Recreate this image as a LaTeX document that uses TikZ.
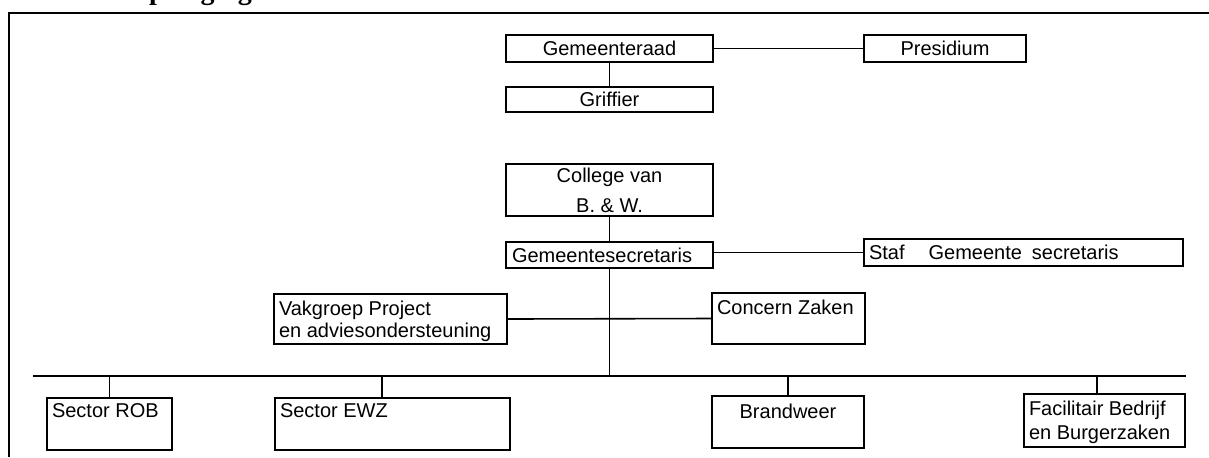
\documentclass[tikz,border=0pt]{standalone}
\usepackage{fontspec}
\setmainfont{Liberation Sans}
\newfontfamily\headfont{Liberation Serif}

% centred text in a box of given width and height
\newcommand{\ctext}[3]{\parbox[c][#2][c]{#1}{\centering #3\par}}
% text set from the top-left corner of a box: width, height, top gap, text
\newcommand{\ttext}[4]{\parbox[c][#2][t]{#1}{\vspace*{#3}\raggedright\leftskip=2.5pt #4\par}}
% text set from the top, centred
\newcommand{\tctext}[4]{\parbox[c][#2][t]{#1}{\vspace*{#3}\centering #4\par}}

\begin{document}
\begin{tikzpicture}[x=0.5pt,y=-0.5pt,
  orgbox/.style={draw, line width=1pt, inner sep=0pt, anchor=north west,
                 font=\fontsize{10}{12}\selectfont},
  link/.style={line width=0.8pt},
  frameline/.style={line width=1pt}]
\useasboundingbox (0,0) rectangle (1209,457);
\clip (0,0) rectangle (1209,457);

% page heading, cut off at the top edge
\node[font=\headfont\bfseries\fontsize{14}{14}\selectfont, anchor=base west, inner sep=0pt]
  (head) at (127,-1) {Opvolging};

% frame
\coordinate (fBL) at (9,457);
\coordinate (fTL) at (9,13);
\coordinate (fTR) at (1209,13);
\draw[frameline] (fBL) -- (fTL) -- (fTR);

% council
\node[orgbox] (raad) at (505,34) {\ctext{103.5pt}{13.5pt}{Gemeenteraad}};
\node[orgbox] (pres) at (863,34) {\ctext{81pt}{13.5pt}{Presidium}};
\node[orgbox] (griffier) at (505,86) {\ctext{103.5pt}{12.5pt}{Griffier}};

% executive
\node[orgbox] (college) at (505,163)
  {\ctext{103.5pt}{26pt}{\fontsize{10}{15}\selectfont College van\\B. \& W.}};
\node[orgbox] (gemsec) at (505,241) {\parbox[c][13pt][c]{103.5pt}{\hspace*{3pt}Gemeentesecretaris}};
\node[orgbox] (staf) at (863,238)
  {\parbox[c][13.5pt][c]{159.5pt}{\hspace*{2.5pt}Staf\hspace{12pt}Gemeente\hspace{5pt}secretaris}};

% staff units
\node[orgbox] (vak) at (273,293)
  {\ttext{116.5pt}{25pt}{3.5pt}{\fontsize{10}{11}\selectfont Vakgroep Project\\en adviesondersteuning}};
\node[orgbox] (concern) at (711,292) {\ttext{76.5pt}{25.5pt}{3.5pt}{Concern Zaken}};

% sectors
\node[orgbox] (rob) at (46,397) {\ttext{62.5pt}{26pt}{3pt}{Sector ROB}};
\node[orgbox] (ewz) at (274,397) {\ttext{117.5pt}{26pt}{3pt}{Sector EWZ}};
\node[orgbox] (brand) at (711,395) {\tctext{76pt}{26pt}{4pt}{Brandweer}};
\node[orgbox] (facil) at (1023,393)
  {\ttext{80.5pt}{26.5pt}{3.5pt}{\fontsize{10}{12}\selectfont Facilitair Bedrijf\\en Burgerzaken}};

% connectors
\draw[link] (raad.east) -- (pres.west);
\draw[link] (raad.south) -- (griffier.north);
\draw[link] (college.south) -- (gemsec.north);
\draw[link] (staf.west) -- (staf.west -| gemsec.east);
\draw[link] (vak.east) -- (concern.west);

% distribution bus
\coordinate (busL) at (33,376);
\coordinate (busR) at (1186,376);
\draw[link] (busL) -- (busR);
\draw[link] (gemsec.south) -- (gemsec.south |- busL);

\coordinate (dEWZ) at (382,376);
\coordinate (dFacil) at (1097,376);
\draw[link] (rob.north |- busL) -- (rob.north);
\draw[link] (dEWZ) -- (dEWZ |- ewz.north);
\draw[link] (brand.north |- busL) -- (brand.north);
\draw[link] (dFacil) -- (dFacil |- facil.north);
\end{tikzpicture}
\end{document}
